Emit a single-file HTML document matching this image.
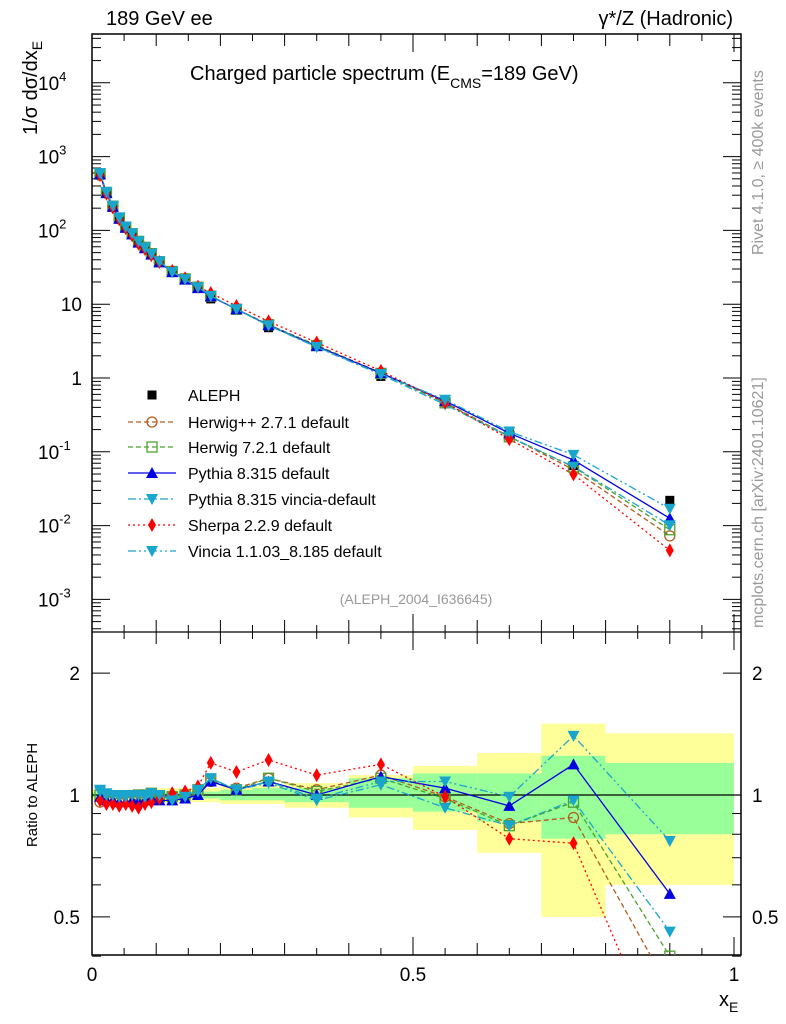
<!DOCTYPE html>
<html><head><meta charset="utf-8"><style>
html,body{margin:0;background:#fff;overflow:hidden;width:786px;height:1024px;}
svg{display:block;font-family:"Liberation Sans",sans-serif;}
</style></head><body>
<svg id="c" width="786" height="1024" viewBox="0 0 786 1024" xmlns="http://www.w3.org/2000/svg"></svg>
<script>
const xVals=[0.0125,0.0225,0.0325,0.0425,0.0525,0.0625,0.0725,0.0825,0.0925,0.105,0.125,0.145,0.165,0.185,0.225,0.275,0.35,0.45,0.55,0.65,0.75,0.9];
const alephVals=[580,330,215,150,113,91,71,59,48,38,28,22,16.5,11.8,8.3,4.8,2.7,1.05,0.47,0.19,0.065,0.022];
const ratioHerwigPP=[0.96,0.97,0.97,0.96,0.97,0.97,0.98,0.99,1.0,0.99,0.99,1.0,1.02,1.08,1.04,1.1,1.03,1.12,0.99,0.85,0.88,0.33];
const ratioHerwig7=[1.0,0.99,0.99,0.98,0.98,0.99,1.0,1.0,1.01,0.99,0.99,1.0,1.03,1.09,1.03,1.1,1.02,1.1,0.98,0.84,0.96,0.40];
const ratioPythia=[0.99,0.97,0.97,0.96,0.96,0.97,0.96,0.97,0.98,0.97,0.97,0.98,1.0,1.08,1.03,1.08,1.0,1.11,1.04,0.94,1.19,0.57];
const ratioPyVincia=[1.03,1.01,1.0,1.0,1.0,1.0,1.0,1.0,1.01,1.0,0.98,0.99,1.02,1.1,1.03,1.07,0.97,1.06,0.93,0.84,0.97,0.46];
const ratioSherpa=[0.97,0.95,0.95,0.94,0.95,0.94,0.93,0.95,0.96,0.98,1.01,1.02,1.05,1.2,1.14,1.22,1.12,1.19,0.99,0.78,0.76,0.21];
const ratioVincia=[1.02,1.0,1.0,0.99,0.99,1.0,1.0,0.99,1.0,1.0,0.97,0.99,1.03,1.1,1.03,1.08,0.98,1.08,1.08,0.99,1.4,0.77];
const bandEdges=[0,0.1,0.2,0.25,0.3,0.4,0.5,0.6,0.7,0.8,1.0];
const yellowLo=[0.97,0.96,0.95,0.95,0.93,0.88,0.82,0.72,0.5,0.6];
const yellowHi=[1.03,1.04,1.05,1.06,1.07,1.12,1.18,1.27,1.5,1.42];
const greenLo=[0.985,0.98,0.97,0.97,0.96,0.93,0.91,0.86,0.78,0.8];
const greenHi=[1.015,1.02,1.03,1.04,1.04,1.1,1.13,1.13,1.25,1.2];
const mainTicks=["10^-3","10^-2","10^-1","1","10","10^2","10^3","10^4"];

const NS="http://www.w3.org/2000/svg";
const svg=document.getElementById('c');
function mk(tag,attrs,parent){const e=document.createElementNS(NS,tag);for(const k in attrs)e.setAttribute(k,attrs[k]);(parent||svg).appendChild(e);return e;}
const X=v=>92+642*v;
const YM=v=>378-73.8*Math.log10(v);
const YR=v=>795-405*Math.log10(v);
const L=92,R=741,T=34,M=632,B=955;

const defs=mk('defs',{});
const c1=mk('clipPath',{id:'cm'},defs);mk('rect',{x:L,y:T,width:R-L,height:M-T},c1);
const c2=mk('clipPath',{id:'cr'},defs);mk('rect',{x:L,y:M,width:R-L,height:B-M},c2);

const gb=mk('g',{'clip-path':'url(#cr)'});

for(let i=0;i<yellowLo.length;i++){
  const y=mk('rect',{x:X(bandEdges[i]),y:YR(yellowHi[i]),width:X(bandEdges[i+1])-X(bandEdges[i]),height:YR(yellowLo[i])-YR(yellowHi[i]),fill:'#ffff99'},gb);
  
  const g=mk('rect',{x:X(bandEdges[i]),y:YR(greenHi[i]),width:X(bandEdges[i+1])-X(bandEdges[i]),height:YR(greenLo[i])-YR(greenHi[i]),fill:'#99ff99'},gb);
  
}
const one=mk('line',{x1:L,x2:R,y1:YR(1),y2:YR(1),stroke:'#000','stroke-width':1.2});


const fr=mk('rect',{x:L,y:T,width:R-L,height:B-T,fill:'none',stroke:'#000','stroke-width':1.5});

const dv=mk('line',{x1:L,x2:R,y1:M,y2:M,stroke:'#000','stroke-width':1.2});


const tk=mk('g',{stroke:'#000','stroke-width':1});

for(let e=-4;e<=4;e++){for(let m=1;m<10;m++){const v=m*Math.pow(10,e);const y=YM(v);if(y<T||y>M)continue;const len=m==1?18:9;
 mk('line',{x1:L,x2:L+len,y1:y,y2:y},tk);mk('line',{x1:R,x2:R-len,y1:y,y2:y},tk);}}
[0.4,0.5,0.6,0.7,0.8,0.9,1,2].forEach(v=>{const y=YR(v);const len=(v==0.5||v==1||v==2)?18:9;mk('line',{x1:L,x2:L+len,y1:y,y2:y},tk);mk('line',{x1:R,x2:R-len,y1:y,y2:y},tk);});
for(let i=0;i<=20;i++){const v=i*0.05;const x=X(v);const len=i%10==0?18:(i%2==0?12:7);
 mk('line',{x1:x,x2:x,y1:B,y2:B-len},tk);mk('line',{x1:x,x2:x,y1:T,y2:T+len},tk);mk('line',{x1:x,x2:x,y1:M,y2:M-len},tk);mk('line',{x1:x,x2:x,y1:M,y2:M+len},tk);}

function txt(s,x,y,size,anchor,name,fill){const t=mk('text',{x:x,y:y,'font-size':size,'text-anchor':anchor||'start',fill:fill||'#000'});t.textContent=s;return t;}
mainTicks.forEach((s,i)=>{const e=i-3;const y=YM(Math.pow(10,e));
 if(s.indexOf('^')>0){const [b,p]=s.split('^');const t=mk('text',{x:38,y:y+7,'font-size':19});
  const a=mk('tspan',{},t);a.textContent=b;const q=mk('tspan',{dy:-9,'font-size':13},t);q.textContent=p;}
 else txt(s,82,y+7,19,'end','y-tick-label');});
[['2',2],['1',1],['0.5',0.5]].forEach(([s,v])=>{txt(s,80,YR(v)+7,19,'end','ratio-tick-label');txt(s,752,YR(v)+7,19,'start','ratio-tick-label-right');});
[['0',0],['0.5',0.5],['1',1]].forEach(([s,v])=>txt(s,X(v),981,19,'middle','x-tick-label'));
const xt=mk('text',{x:719,y:1006,'font-size':20});
mk('tspan',{},xt).textContent='x';const xs=mk('tspan',{dy:6,'font-size':14},xt);xs.textContent='E';
const yt=mk('text',{transform:'translate(37,135) rotate(-90)','font-size':20,'text-anchor':'start'});
mk('tspan',{},yt).textContent='1/σ   dσ/dx';mk('tspan',{dy:5,'font-size':14},yt).textContent='E';
const rt=mk('text',{transform:'translate(37,795) rotate(-90)','font-size':15,'text-anchor':'middle'});rt.textContent='Ratio to ALEPH';
txt('189 GeV ee',106,25,20,'start','energy-label');
txt('γ*/Z (Hadronic)',733,25,20,'end','process-label');
const ti=mk('text',{x:190,y:80,'font-size':20});
mk('tspan',{},ti).textContent='Charged particle spectrum (E';mk('tspan',{dy:8,'font-size':14},ti).textContent='CMS';mk('tspan',{dy:-8},ti).textContent='=189 GeV)';
txt('(ALEPH_2004_I636645)',416,604,14,'middle','analysis-id','#999');
const r1=mk('text',{transform:'translate(763,255) rotate(-90)','font-size':16,fill:'#999'});r1.textContent='Rivet 4.1.0, ≥ 400k events';
const r2=mk('text',{transform:'translate(763,628) rotate(-90)','font-size':16,fill:'#999'});r2.textContent='mcplots.cern.ch [arXiv:2401.10621]';

function marker(g,type,x,y,col){
 if(type=='circle')return mk('circle',{cx:x,cy:y,r:5,fill:'none',stroke:col,'stroke-width':1.3},g);
 if(type=='osq')return mk('rect',{x:x-5,y:y-5,width:10,height:10,fill:'none',stroke:col,'stroke-width':1.3},g);
 if(type=='sq')return mk('rect',{x:x-4.5,y:y-4.5,width:9,height:9,fill:col},g);
 if(type=='tri')return mk('polygon',{points:`${x},${y-6} ${x-6},${y+5} ${x+6},${y+5}`,fill:col},g);
 if(type=='itri')return mk('polygon',{points:`${x},${y+6} ${x-6},${y-5} ${x+6},${y-5}`,fill:col},g);
 if(type=='dia')return mk('polygon',{points:`${x},${y-7} ${x-4},${y} ${x},${y+7} ${x+4},${y}`,fill:col},g);
}
const ga=mk('g',{'clip-path':'url(#cm)'});
xVals.forEach((x,i)=>{const a=marker(ga,'sq',X(x),YM(alephVals[i]),'#000');});

const series=[
 {n:'herwigpp',lab:'Herwig++ 2.7.1 default',r:ratioHerwigPP,col:'#b35c1e',dash:'5,3',m:'circle'},
 {n:'herwig7',lab:'Herwig 7.2.1 default',r:ratioHerwig7,col:'#4ca02c',dash:'5,3',m:'osq'},
 {n:'pythia',lab:'Pythia 8.315 default',r:ratioPythia,col:'#0000e0',dash:'',m:'tri'},
 {n:'pythia-vincia',lab:'Pythia 8.315 vincia-default',r:ratioPyVincia,col:'#1aa6cc',dash:'8,3,2,3',m:'itri'},
 {n:'sherpa',lab:'Sherpa 2.2.9 default',r:ratioSherpa,col:'#ff0000',dash:'2,3',m:'dia'},
 {n:'vincia',lab:'Vincia 1.1.03_8.185 default',r:ratioVincia,col:'#1aa6cc',dash:'8,3,2,3,2,3',m:'itri'}];
series.forEach(s=>{
 const vals=s.r;
 const gm=mk('g',{'clip-path':'url(#cm)'});
 const gr=mk('g',{'clip-path':'url(#cr)'});
 const pm=xVals.map((x,i)=>X(x)+','+YM(alephVals[i]*vals[i])).join(' ');
 const pr=xVals.map((x,i)=>X(x)+','+YR(vals[i])).join(' ');
 const l1=mk('polyline',{points:pm,fill:'none',stroke:s.col,'stroke-width':1.3,'stroke-dasharray':s.dash},gm);
 const l2=mk('polyline',{points:pr,fill:'none',stroke:s.col,'stroke-width':1.3,'stroke-dasharray':s.dash},gr);
 xVals.forEach((x,i)=>{const a=marker(gm,s.m,X(x),YM(alephVals[i]*vals[i]),s.col);
  const b=marker(gr,s.m,X(x),YR(vals[i]),s.col);});
});

const lg=mk('g',{});
const ly=[395,422,447,473,499,525,551];
const e0=mk('g',{},lg);
marker(e0,'sq',152,ly[0],'#000');
const t0=mk('text',{x:188,y:ly[0]+6,'font-size':16},e0);t0.textContent='ALEPH';
series.forEach((s,i)=>{const e=mk('g',{},lg);
 const y=ly[i+1];mk('line',{x1:128,x2:176,y1:y,y2:y,stroke:s.col,'stroke-width':1.3,'stroke-dasharray':s.dash},e);marker(e,s.m,152,y,s.col);
 const t=mk('text',{x:188,y:y+6,'font-size':16},e);t.textContent=s.lab;});
</script>
</body></html>
